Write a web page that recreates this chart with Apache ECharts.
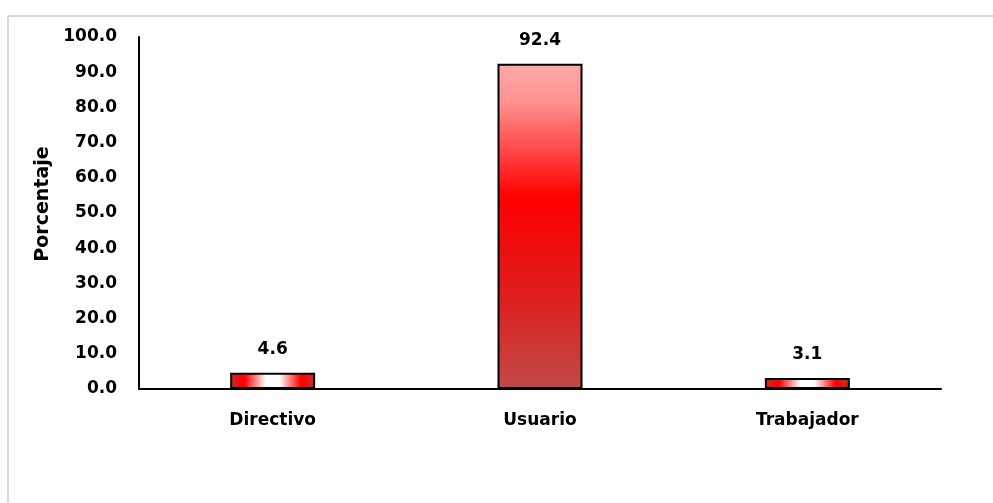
<!DOCTYPE html>
<html>
<head>
<meta charset="utf-8">
<title>Porcentaje por tipo</title>
<script src="https://cdn.jsdelivr.net/npm/echarts@6/dist/echarts.min.js"></script>
<style>
  html, body { margin: 0; padding: 0; background: #ffffff; }
  #chart { width: 993px; height: 503px; }
</style>
</head>
<body>
<div id="chart"></div>
<script>
// Categories and percentages
const categories = ['Directivo', 'Usuario', 'Trabajador'];
const percentages = [4.6, 92.4, 3.1];
const axisTitle = 'Porcentaje';

const FONT = '"DejaVu Sans", sans-serif';

// Tall bar: vertical shading light pink -> red -> muted dark red
const tallFill = new echarts.graphic.LinearGradient(0, 0, 0, 1, [
  { offset: 0, color: '#ffaaaa' },
  { offset: 0.12, color: '#ff9090' },
  { offset: 0.41, color: '#ff0000' },
  { offset: 0.7, color: '#e01c1c' },
  { offset: 1, color: '#c04a48' }
]);

// Short bars: horizontal shading with a white highlight in the middle
function flatFill() {
  return new echarts.graphic.LinearGradient(0, 0, 1, 0, [
    { offset: 0, color: '#c82a2a' },
    { offset: 0.17, color: '#ff0000' },
    { offset: 0.42, color: '#ffffff' },
    { offset: 0.58, color: '#ffffff' },
    { offset: 0.83, color: '#ff0000' },
    { offset: 1, color: '#c82a2a' }
  ]);
}

const barData = percentages.map(function (v) {
  return {
    value: v,
    itemStyle: { color: v > 50 ? tallFill : flatFill() }
  };
});

const chart = echarts.init(document.getElementById('chart'), null, { renderer: 'canvas' });

chart.setOption({
  backgroundColor: '#ffffff',
  animation: false,
  grid: { left: 139, right: 52, top: 37, bottom: 114, containLabel: false },
  graphic: [
    // chart frame (top and left edges)
    { type: 'line', shape: { x1: 8, y1: 16, x2: 993, y2: 16 }, style: { stroke: '#d9d9d9', lineWidth: 2 } },
    { type: 'line', shape: { x1: 8, y1: 16, x2: 8, y2: 503 }, style: { stroke: '#d9d9d9', lineWidth: 2 } },
    {
      type: 'text',
      x: 43, y: 204,
      rotation: Math.PI / 2,
      style: {
        text: axisTitle,
        font: 'bold 19px ' + FONT,
        fill: '#000000',
        align: 'center',
        verticalAlign: 'middle'
      }
    }
  ],
  xAxis: {
    type: 'category',
    data: categories,
    axisLine: { lineStyle: { color: '#000000', width: 2 } },
    axisTick: { show: false },
    axisLabel: {
      color: '#000000',
      fontFamily: FONT,
      fontWeight: 'bold',
      fontSize: 17,
      margin: 23
    }
  },
  yAxis: {
    type: 'value',
    min: 0,
    max: 100,
    interval: 10,
    axisLine: { show: true, lineStyle: { color: '#000000', width: 2 } },
    axisTick: { show: false },
    splitLine: { show: false },
    axisLabel: {
      color: '#000000',
      fontFamily: FONT,
      fontWeight: 'bold',
      fontSize: 17,
      margin: 22,
      formatter: function (v) { return v.toFixed(1); }
    }
  },
  series: [{
    type: 'bar',
    data: barData,
    barWidth: 85,
    itemStyle: { borderColor: '#000000', borderWidth: 2 },
    label: {
      show: true,
      position: 'top',
      distance: 15,
      color: '#000000',
      fontFamily: FONT,
      fontWeight: 'bold',
      fontSize: 17,
      formatter: function (p) { return p.value.toFixed(1); }
    }
  }]
});
</script>
</body>
</html>
